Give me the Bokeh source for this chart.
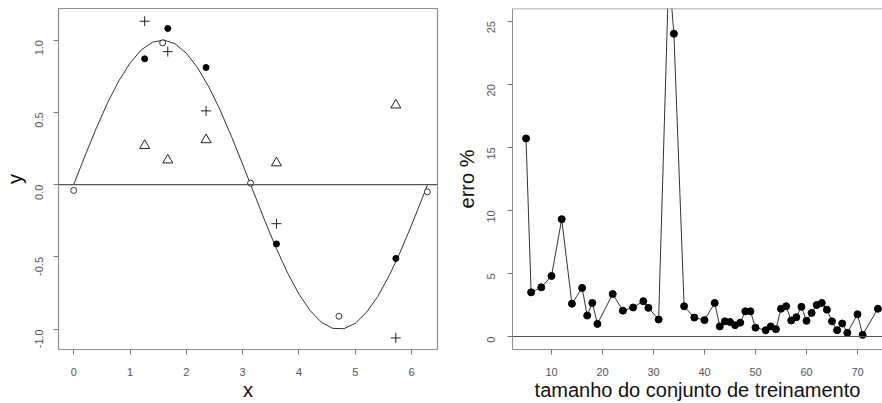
import math
from bokeh.plotting import figure
from bokeh.layouts import row
from bokeh.models import Range1d, FixedTicker, Span, PrintfTickFormatter
from bokeh.embed import file_html
from bokeh.resources import INLINE

# ---------------- left panel data ----------------
curve_x = [0.0, 0.2, 0.4, 0.6, 0.8, 1.0, 1.2, 1.4, 1.6, 1.8, 2.0, 2.2, 2.4, 2.6, 2.8,
           3.0, 3.2, 3.4, 3.6, 3.8, 4.0, 4.2, 4.4, 4.6, 4.8, 5.0, 5.2, 5.4, 5.6, 5.8,
           6.0, 6.2, 6.283]
curve_y = [0.0, 0.199, 0.389, 0.565, 0.717, 0.841, 0.932, 0.985, 1.0, 0.974, 0.909,
           0.808, 0.675, 0.516, 0.335, 0.141, -0.058, -0.256, -0.443, -0.612, -0.757,
           -0.872, -0.952, -0.994, -0.996, -0.959, -0.883, -0.773, -0.631, -0.465,
           -0.279, -0.083, 0.0]
pt_x = [1.26, 1.67, 2.35, 3.6, 5.72]
filled_y = [0.87, 1.08, 0.81, -0.41, -0.51]
plus_y = [1.13, 0.92, 0.51, -0.27, -1.06]
tri_y = [0.27, 0.17, 0.31, 0.15, 0.55]
open_x = [0.0, 1.58, 3.14, 4.71, 6.28]
open_y = [-0.04, 0.98, 0.01, -0.91, -0.05]
left_xticks = [0, 1, 2, 3, 4, 5, 6]
left_yticks = [-1.0, -0.5, 0.0, 0.5, 1.0]

# ---------------- right panel data ----------------
n_train = [5, 6, 8, 10, 12, 14, 16, 17, 18, 19, 22, 24, 26, 28, 29, 31, 33, 34, 36, 38,
           40, 42, 43, 44, 45, 46, 47, 48, 49, 50, 52, 53, 54, 55, 56, 57, 58, 59, 60,
           61, 62, 63, 64, 65, 66, 67, 68, 70, 71, 74]
err = [15.7, 3.5, 3.9, 4.8, 9.3, 2.6, 3.85, 1.66, 2.66, 1.0, 3.37, 2.05, 2.3, 2.8, 2.27,
       1.35, 29.0, 24.0, 2.4, 1.5, 1.3, 2.66, 0.8, 1.2, 1.15, 0.9, 1.1, 2.0, 2.0, 0.7,
       0.5, 0.8, 0.58, 2.2, 2.4, 1.27, 1.53, 2.35, 1.24, 1.87, 2.5, 2.66, 2.13, 1.2,
       0.5, 1.03, 0.29, 1.76, 0.13, 2.2]
right_xticks = [10, 20, 30, 40, 50, 60, 70]
right_yticks = [0, 5, 10, 15, 20, 25]

FONT = "Liberation Sans"
BOX = "#8f8f8f"
TICKTXT = "#555555"
H = 403


def style_axes(p):
    for ax in (p.xaxis[0], p.yaxis[0]):
        ax.major_tick_out = 5
        ax.major_tick_in = 0
        ax.minor_tick_line_color = None
        ax.major_tick_line_color = "#777777"
        ax.axis_line_color = BOX
        ax.major_label_text_font = FONT
        ax.major_label_text_font_size = "11px"
        ax.major_label_text_color = TICKTXT
        ax.axis_label_text_font = FONT
        ax.axis_label_text_font_size = "20px"
        ax.axis_label_text_font_style = "normal"
        ax.axis_label_text_color = "#111111"
    p.xaxis[0].major_label_standoff = 13
    p.xaxis[0].axis_label_standoff = 0
    p.yaxis[0].major_label_standoff = 14
    p.yaxis[0].major_label_orientation = math.pi / 2
    p.grid.visible = False


# ---------------- left figure ----------------
p1 = figure(width=448, height=H, output_backend="svg", toolbar_location=None,
            x_range=Range1d(-0.27, 6.46), y_range=Range1d(-1.14, 1.218),
            min_border_left=58, min_border_right=11, min_border_top=8,
            min_border_bottom=54, x_axis_label="x", y_axis_label="y")
p1.outline_line_color = BOX
p1.outline_line_width = 1.2
style_axes(p1)
p1.xaxis[0].ticker = FixedTicker(ticks=left_xticks)
p1.yaxis[0].ticker = FixedTicker(ticks=left_yticks)
p1.yaxis[0].formatter = PrintfTickFormatter(format="%.1f")
p1.yaxis[0].axis_label_standoff = 3
p1.add_layout(Span(location=0, dimension="width", line_color="#555555", line_width=1.2))
p1.line(curve_x, curve_y, line_color="#333333", line_width=1)
p1.scatter(open_x, open_y, marker="circle", size=6, fill_color="white",
           line_color="#333333", line_width=1)
p1.scatter(pt_x, filled_y, marker="circle", size=6, fill_color="black", line_color="black")
p1.scatter(pt_x, plus_y, marker="cross", size=10, line_color="#222222", line_width=1)
p1.scatter(pt_x, tri_y, marker="triangle", size=10, fill_color=None,
           line_color="#222222", line_width=1)

# ---------------- right figure ----------------
p2 = figure(width=434, height=H, output_backend="svg", toolbar_location=None,
            x_range=Range1d(2.35, 74.9), y_range=Range1d(-1.03, 26.0),
            min_border_left=64, min_border_right=0, min_border_top=8,
            min_border_bottom=53, x_axis_label="tamanho do conjunto de treinamento",
            y_axis_label="erro %")
p2.outline_line_color = None
style_axes(p2)
p2.xaxis[0].ticker = FixedTicker(ticks=right_xticks)
p2.yaxis[0].ticker = FixedTicker(ticks=right_yticks)
p2.yaxis[0].major_label_standoff = 16
p2.yaxis[0].axis_label_standoff = 3
p2.add_layout(Span(location=26.0, dimension="width", line_color=BOX, line_width=1.5))
p2.add_layout(Span(location=0, dimension="width", line_color="#555555", line_width=1.2))
p2.line(n_train, err, line_color="#333333", line_width=1)
p2.scatter(n_train, err, marker="circle", size=7, fill_color="black", line_color="black")

layout = row(p1, p2, spacing=0)
open("out.html", "w").write(file_html(layout, INLINE))
